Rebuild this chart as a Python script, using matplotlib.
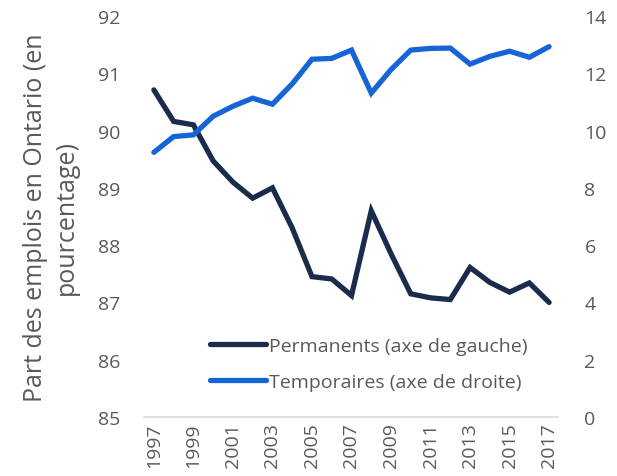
import matplotlib
matplotlib.use('Agg')
import matplotlib.pyplot as plt

plt.rcParams['font.family'] = ['Open Sans', 'DejaVu Sans']

# -------- data --------
years = list(range(1997, 2018))
permanents = [90.71, 90.16, 90.10, 89.47, 89.10, 88.82, 89.00, 88.30, 87.45, 87.41,
              87.12, 88.60, 87.85, 87.15, 87.08, 87.05, 87.61, 87.35, 87.18, 87.34, 87.00]
temporaires = [9.24, 9.79, 9.85, 10.50, 10.85, 11.13, 10.92, 11.63, 12.49, 12.52,
               12.81, 11.31, 12.13, 12.81, 12.87, 12.88, 12.32, 12.59, 12.77, 12.56, 12.93]
xtick_years = list(range(1997, 2018, 2))
left_ticks = list(range(85, 93))
right_ticks = list(range(0, 15, 2))

c_perm = '#1b2b4b'
c_temp = '#1565d6'
c_text = '#595959'

fig = plt.figure(figsize=(6.17, 4.77), dpi=100, facecolor='white')
ax = fig.add_axes([144 / 617, 59 / 477, 414 / 617, 401 / 477])
ax2 = ax.twinx()

l1, = ax.plot(years, permanents, color=c_perm, lw=3.8, solid_capstyle='round',
              solid_joinstyle='miter', label='Permanents (axe de gauche)')
l2, = ax2.plot(years, temporaires, color=c_temp, lw=3.8, solid_capstyle='round',
               solid_joinstyle='miter', label='Temporaires (axe de droite)')

ax.set_xlim(1996.5, 2017.45)
ax.set_ylim(85, 92)
ax2.set_ylim(0, 14)
ax.set_yticks(left_ticks)
ax2.set_yticks(right_ticks)
ax.set_xticks(xtick_years)
ax.set_xticklabels([str(y) for y in xtick_years], rotation=90)

for a in (ax, ax2):
    for s in a.spines.values():
        s.set_visible(False)
    a.tick_params(length=0, labelsize=14, colors=c_text)
ax.spines['bottom'].set_visible(True)
ax.spines['bottom'].set_color('#d9d9d9')
ax.spines['bottom'].set_linewidth(1.2)
ax.tick_params(axis='y', pad=17)
ax2.tick_params(axis='y', pad=19)
ax.tick_params(axis='x', pad=4)

ax.set_ylabel('Part des emplois en Ontario (en\npourcentage)', fontsize=18,
              color=c_text, linespacing=1.3, labelpad=14)

leg = ax.legend(handles=[l1, l2], loc='lower left', bbox_to_anchor=(0.14, 0.045),
                frameon=False, fontsize=14, handlelength=2.9, handletextpad=0.15,
                labelspacing=0.95, borderaxespad=0)
for t in leg.get_texts():
    t.set_color(c_text)

fig.savefig('out.png', dpi=100, facecolor='white')
